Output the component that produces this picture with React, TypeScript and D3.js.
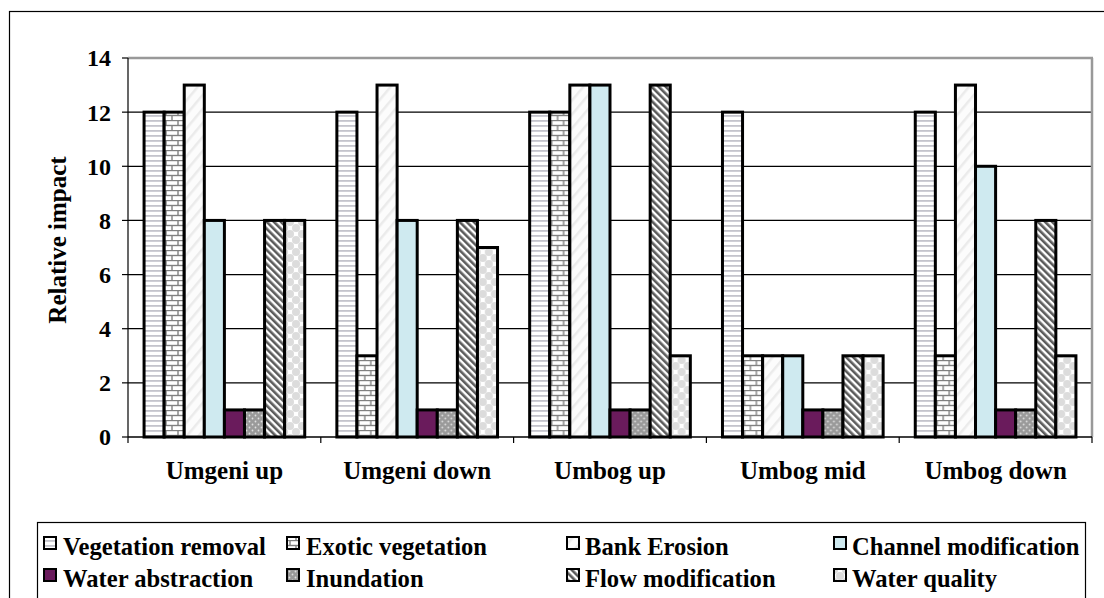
import React from "react";
import * as d3 from "d3";

const categories = ["Umgeni up", "Umgeni down", "Umbog up", "Umbog mid", "Umbog down"];
const seriesNames = [
  "Vegetation removal",
  "Exotic vegetation",
  "Bank Erosion",
  "Channel modification",
  "Water abstraction",
  "Inundation",
  "Flow modification",
  "Water quality",
];
// values[series][category]
const vegetationRemoval = [12, 12, 12, 12, 12];
const exoticVegetation = [12, 3, 12, 3, 3];
const bankErosion = [13, 13, 13, 3, 13];
const channelModification = [8, 8, 13, 3, 10];
const waterAbstraction = [1, 1, 1, 1, 1];
const inundation = [1, 1, 1, 1, 1];
const flowModification = [8, 8, 13, 3, 8];
const waterQuality = [8, 7, 3, 3, 3];
const seriesValues = [
  vegetationRemoval,
  exoticVegetation,
  bankErosion,
  channelModification,
  waterAbstraction,
  inundation,
  flowModification,
  waterQuality,
];
const yTicks = [0, 2, 4, 6, 8, 10, 12, 14];

const fills = [
  "url(#pHlines)",
  "url(#pBrick)",
  "url(#pBank)",
  "#cfeaf0",
  "#6a1b5c",
  "url(#pDots)",
  "url(#pFlow)",
  "url(#pQual)",
];

const FONT = "'Liberation Serif', 'Times New Roman', serif";

export default function App() {
  const W = 1104;
  const H = 598;
  const left = 128, right = 1092, top = 58, bottom = 437;
  const x0 = d3.scaleBand<string>().domain(categories).range([left, right]).paddingInner(0).paddingOuter(0);
  const x1 = d3
    .scaleBand<string>()
    .domain(seriesNames)
    .range([0, x0.bandwidth()])
    .paddingInner(0)
    .paddingOuter(0.8);
  const y = d3.scaleLinear().domain([0, 14]).range([bottom, top]);

  const legendCols = [
    { sx: 44, tx: 63 },
    { sx: 287, tx: 306 },
    { sx: 567, tx: 585 },
    { sx: 834, tx: 852 },
  ];
  const legendRows = [555, 587];

  return (
    <svg
      width={W}
      height={H}
      style={{ position: "absolute", left: 0, top: 0, background: "#fff" }}
      fontFamily={FONT}
    >
      <defs>
        <pattern id="pHlines" width="6" height="5" patternUnits="userSpaceOnUse">
          <rect width="6" height="5" fill="#fff" />
          <rect y="0" width="6" height="1.8" fill="#c4c4cc" />
        </pattern>
        <pattern id="pBrick" width="12" height="10" patternUnits="userSpaceOnUse">
          <rect width="12" height="10" fill="#fff" />
          <line x1="0" y1="0.5" x2="12" y2="0.5" stroke="#808080" strokeWidth="1.4" />
          <line x1="0" y1="5.5" x2="12" y2="5.5" stroke="#808080" strokeWidth="1.4" />
          <line x1="2" y1="0" x2="2" y2="5.5" stroke="#808080" strokeWidth="1.4" />
          <line x1="8" y1="5.5" x2="8" y2="10" stroke="#808080" strokeWidth="1.4" />
        </pattern>
        <pattern id="pBank" width="9" height="9" patternUnits="userSpaceOnUse" patternTransform="rotate(40)">
          <rect width="9" height="9" fill="#fcfcfc" />
          <rect width="2.5" height="9" fill="#ebebeb" />
        </pattern>
        <pattern id="pDots" width="6" height="6" patternUnits="userSpaceOnUse">
          <rect width="6" height="6" fill="#9a9a9a" />
          <circle cx="1.5" cy="1.5" r="0.9" fill="#e0e0e0" />
          <circle cx="4.5" cy="4.5" r="0.9" fill="#e0e0e0" />
        </pattern>
        <pattern id="pFlow" width="5" height="5" patternUnits="userSpaceOnUse" patternTransform="rotate(-45)">
          <rect width="5" height="5" fill="#fff" />
          <rect width="2.6" height="5" fill="#5c5c5c" />
        </pattern>
        <pattern id="pQual" width="12" height="12" patternUnits="userSpaceOnUse">
          <rect width="12" height="12" fill="#fff" />
          <circle cx="6" cy="6" r="4" fill="#dcdcdc" />
          <circle cx="0" cy="0" r="4" fill="#dcdcdc" />
          <circle cx="12" cy="0" r="4" fill="#dcdcdc" />
          <circle cx="0" cy="12" r="4" fill="#dcdcdc" />
          <circle cx="12" cy="12" r="4" fill="#dcdcdc" />
        </pattern>
      </defs>

      {/* outer border */}
      <rect x={9.5} y={11.5} width={1110} height={620} fill="none" stroke="#000" strokeWidth={1.2} />

      {/* gridlines */}
      {yTicks
        .filter((t) => t > 0 && t < 14)
        .map((t) => (
          <line key={t} x1={left} x2={right} y1={y(t)} y2={y(t)} stroke="#000" strokeWidth={1.2} />
        ))}
      {/* plot border top & right */}
      <line x1={left} x2={right + 1} y1={top} y2={top} stroke="#999" strokeWidth={2.5} />
      <line x1={right} x2={right} y1={top} y2={bottom} stroke="#999" strokeWidth={2.5} />

      {/* bars */}
      {categories.map((c, ci) => (
        <g key={c} transform={`translate(${x0(c)},0)`}>
          {seriesNames.map((s, si) => {
            const v = seriesValues[si][ci];
            return (
              <rect
                key={s}
                x={x1(s)}
                y={y(v)}
                width={x1.bandwidth()}
                height={y(0) - y(v)}
                fill={fills[si]}
                stroke="#000"
                strokeWidth={3}
              />
            );
          })}
        </g>
      ))}

      {/* y axis */}
      <line x1={left} x2={left} y1={top} y2={bottom + 6} stroke="#000" strokeWidth={1.2} />
      {yTicks.map((t) => (
        <g key={t}>
          <line x1={left - 6} x2={left} y1={y(t)} y2={y(t)} stroke="#000" strokeWidth={1.2} />
          <text x={111} y={y(t)} dy="0.35em" textAnchor="end" fontSize={24} fontWeight="bold">
            {t}
          </text>
        </g>
      ))}
      <text
        transform={`translate(66,${240}) rotate(-90)`}
        textAnchor="middle"
        fontSize={25}
        fontWeight="bold"
      >
        Relative impact
      </text>

      {/* x axis */}
      <line x1={left} x2={right} y1={bottom} y2={bottom} stroke="#000" strokeWidth={1.5} />
      {categories.map((c) => (
        <line key={c} x1={(x0(c) as number) + x0.bandwidth()} x2={(x0(c) as number) + x0.bandwidth()} y1={bottom} y2={bottom + 6} stroke="#000" strokeWidth={1.2} />
      ))}
      {categories.map((c) => (
        <text key={c} x={(x0(c) as number) + x0.bandwidth() / 2} y={479} textAnchor="middle" fontSize={25} fontWeight="bold">
          {c}
        </text>
      ))}

      {/* legend */}
      <rect x={37.5} y={522.5} width={1048} height={100} fill="none" stroke="#000" strokeWidth={1.2} />
      {seriesNames.map((s, i) => {
        const col = legendCols[i % 4];
        const row = legendRows[Math.floor(i / 4)];
        return (
          <g key={s}>
            <rect x={col.sx} y={row - 18} width={12} height={12} fill={fills[i]} stroke="#000" strokeWidth={2} />
            <text x={col.tx} y={row} fontSize={24.6} fontWeight="bold">
              {s}
            </text>
          </g>
        );
      })}
    </svg>
  );
}
